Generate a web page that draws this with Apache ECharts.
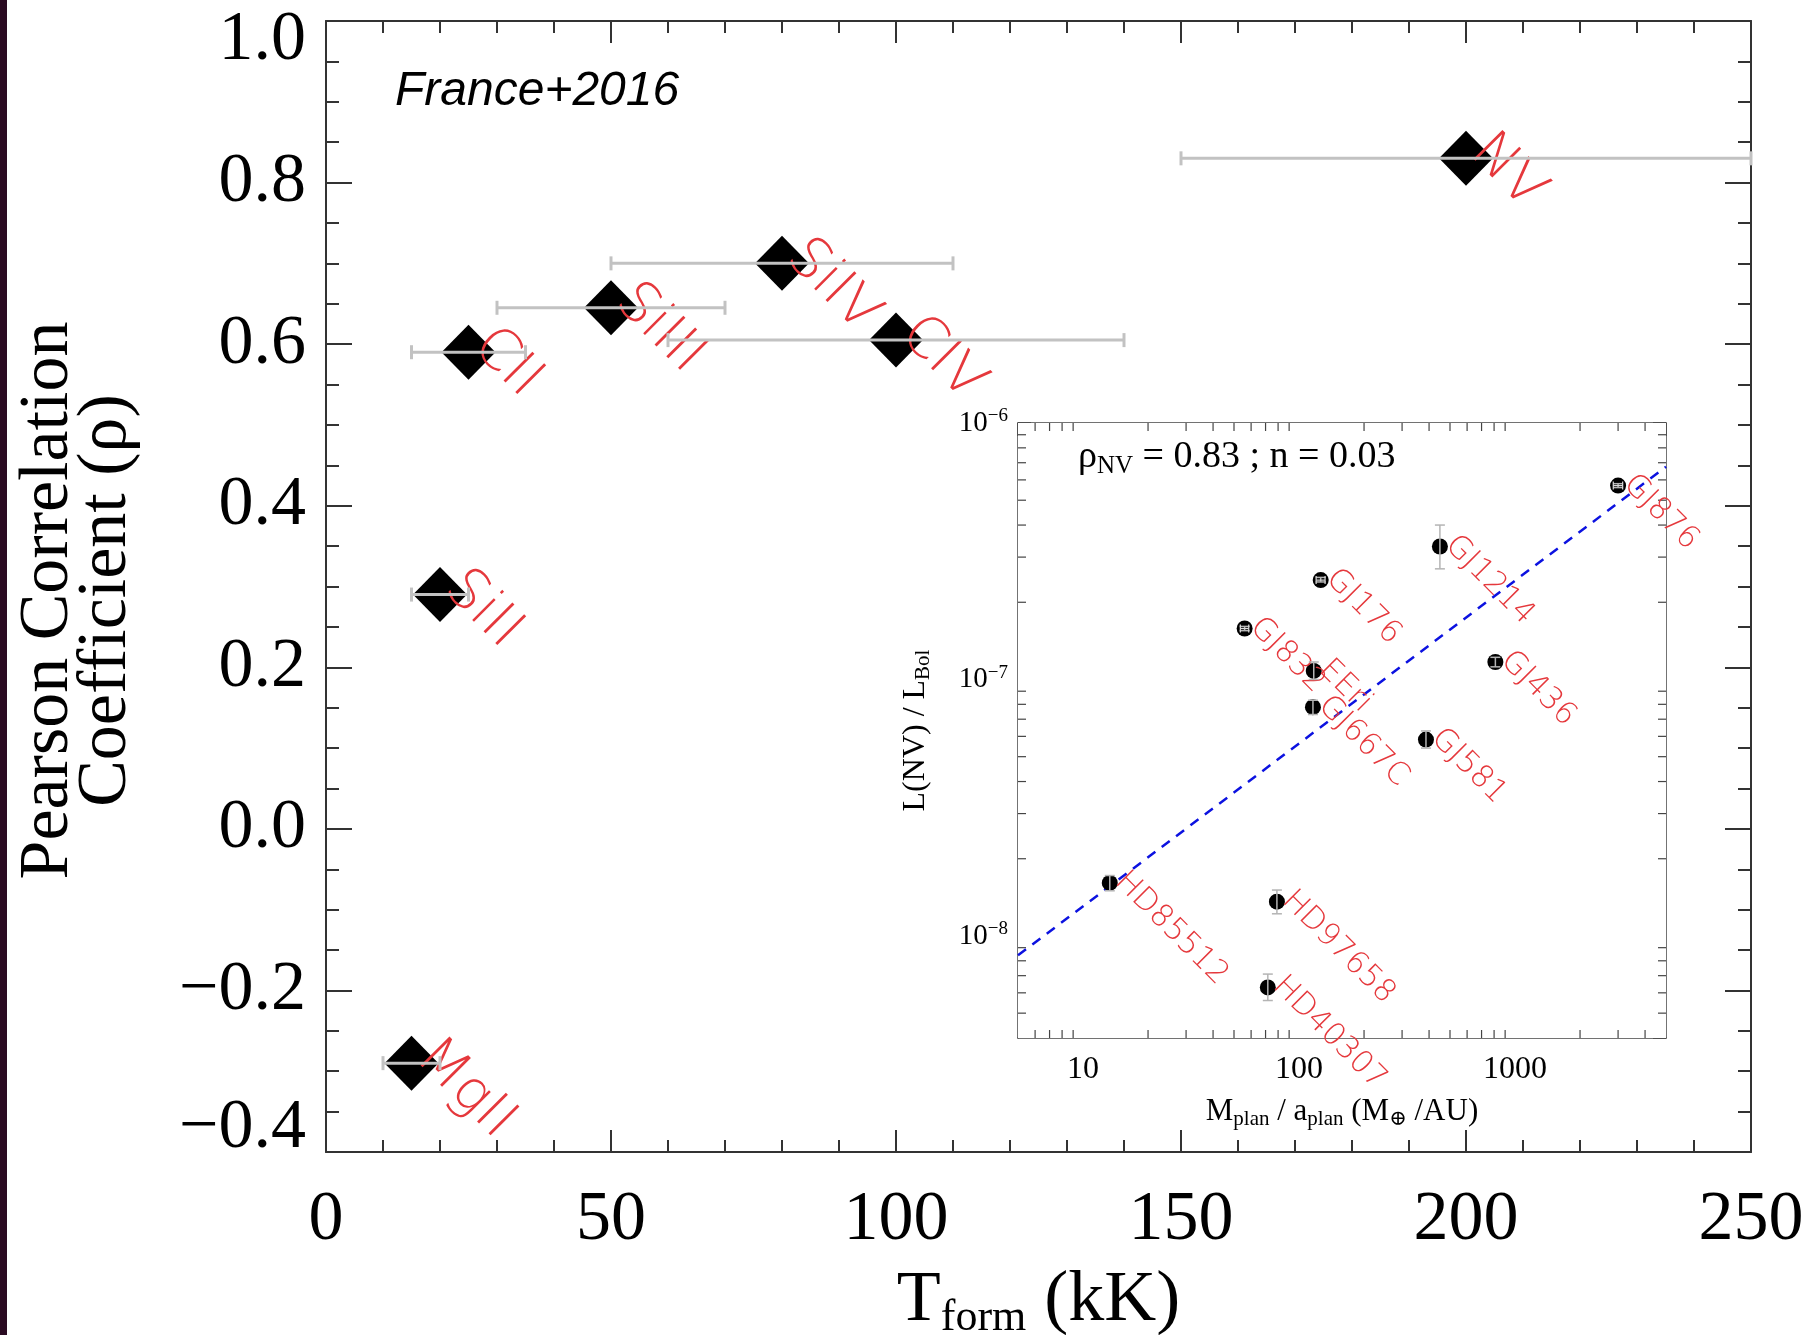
<!DOCTYPE html>
<html>
<head>
<meta charset="utf-8">
<title>Pearson correlation vs formation temperature</title>
<script src="https://cdn.jsdelivr.net/npm/echarts@6/dist/echarts.min.js"></script>
<style>
  html, body { margin: 0; padding: 0; background: #fff; }
  #chart { width: 1808px; height: 1335px; }
</style>
</head>
<body>
<div id="chart"></div>
<script>
/* ---------- main panel: correlation vs formation temperature ---------- */
const ions = ['MgII', 'SiII', 'CII', 'SiIII', 'SiIV', 'CIV', 'NV'];
const tForm = [15, 20, 25, 50, 80, 100, 200];
const tLow = [10, 15, 15, 30, 50, 60, 150];
const tHigh = [20, 25, 35, 70, 110, 140, 250];
const rho = [-0.29, 0.29, 0.59, 0.645, 0.70, 0.605, 0.83];

/* ---------- inset: L(NV)/Lbol vs Mplan/aplan ---------- */
const stars = ['GJ876', 'GJ1214', 'GJ176', 'GJ832', 'GJ436', 'EEri', 'GJ667C', 'GJ581', 'HD85512', 'HD97658', 'HD40307'];
const mOverA = [3000, 449, 126, 56, 811, 117, 116, 387, 13.3, 79, 71.7];
const mOverALo = [2850, 449, 120, 53.5, 811, 117, 116, 387, 13.3, 79, 71.7];
const mOverAHi = [3150, 449, 132, 58.5, 811, 117, 116, 387, 13.3, 79, 71.7];
const lNV = [5.7e-7, 3.3e-7, 2.44e-7, 1.58e-7, 1.17e-7, 1.08e-7, 7.8e-8, 5.83e-8, 1.61e-8, 1.36e-8, 6.3e-9];
const lNVLo = [5.6e-7, 2.7e-7, 2.4e-7, 1.55e-7, 1.12e-7, 1.0e-7, 7.3e-8, 5.4e-8, 1.5e-8, 1.22e-8, 5.6e-9];
const lNVHi = [5.8e-7, 4.0e-7, 2.5e-7, 1.61e-7, 1.22e-7, 1.17e-7, 8.3e-8, 6.3e-8, 1.72e-8, 1.51e-8, 7.1e-9];
const fitX = [5, 5000];
const fitY = [8.4e-9, 6.75e-7];

/* log minor tick positions of the inset */
const insetMinorX = [6, 7, 8, 9, 20, 30, 40, 50, 60, 70, 80, 90, 200, 300, 400, 500, 600, 700, 800, 900, 2000, 3000, 4000];
const insetMinorY = [5e-9, 6e-9, 7e-9, 8e-9, 9e-9, 2e-8, 3e-8, 4e-8, 5e-8, 6e-8, 7e-8, 8e-8, 9e-8,
  2e-7, 3e-7, 4e-7, 5e-7, 6e-7, 7e-7, 8e-7, 9e-7];

/* ---------- styles ---------- */
const SERIF = "'Liberation Serif', 'Times New Roman', 'DejaVu Serif', serif";
const SANS = "'DejaVu Sans', 'Liberation Sans', sans-serif";
const RED = '#e5383c';
const AXIS = '#333';

const chart = echarts.init(document.getElementById('chart'));

function mainYLabel(v) {
  const s = (v < 0 ? '\u2212' : '') + Math.abs(v).toFixed(1);
  if (v > 0.999) return '{top|' + s + '}';
  if (v < -0.399) return '{bot|' + s + '}';
  return s;
}

const mainAxisCommon = {
  axisLine: { onZero: false, lineStyle: { color: AXIS, width: 2 } },
  axisTick: { inside: true, lineStyle: { color: AXIS, width: 2 } },
  minorTick: { show: true, lineStyle: { color: AXIS, width: 2 } },
  splitLine: { show: false },
  minorSplitLine: { show: false },
};

const insetAxisCommon = {
  type: 'log',
  logBase: 10,
  splitNumber: 3,
  gridIndex: 1,
  axisLine: { onZero: false, lineStyle: { color: '#444', width: 1.5 } },
  axisTick: { inside: true, length: 13, lineStyle: { color: '#444', width: 1.5 } },
  splitLine: { show: false },
};

function xErrRender(params, api) {
  const y = api.value(1);
  const p0 = api.coord([api.value(2), y]);
  const p1 = api.coord([api.value(3), y]);
  const cap = 7;
  const st = { stroke: '#c2c2c2', lineWidth: 3 };
  return {
    type: 'group',
    children: [
      { type: 'line', shape: { x1: p0[0], y1: p0[1], x2: p1[0], y2: p1[1] }, style: st },
      { type: 'line', shape: { x1: p0[0], y1: p0[1] - cap, x2: p0[0], y2: p0[1] + cap }, style: st },
      { type: 'line', shape: { x1: p1[0], y1: p1[1] - cap, x2: p1[0], y2: p1[1] + cap }, style: st },
    ],
  };
}

function insetErrRender(params, api) {
  const x = api.value(0);
  const y = api.value(1);
  const st = { stroke: '#b4b4b4', lineWidth: 1.5 };
  const cap = 5;
  const a = api.coord([x, api.value(2)]);
  const b = api.coord([x, api.value(3)]);
  const c = api.coord([api.value(4), y]);
  const d = api.coord([api.value(5), y]);
  const kids = [];
  if (Math.abs(a[1] - b[1]) > 2) {
    kids.push(
      { type: 'line', shape: { x1: a[0], y1: a[1], x2: b[0], y2: b[1] }, style: st },
      { type: 'line', shape: { x1: a[0] - cap, y1: a[1], x2: a[0] + cap, y2: a[1] }, style: st },
      { type: 'line', shape: { x1: b[0] - cap, y1: b[1], x2: b[0] + cap, y2: b[1] }, style: st }
    );
  }
  if (Math.abs(c[0] - d[0]) > 2) {
    const hs = { stroke: '#d8d8d8', lineWidth: 1.2 };
    kids.push(
      { type: 'line', shape: { x1: c[0], y1: c[1], x2: d[0], y2: d[1] }, style: hs },
      { type: 'line', shape: { x1: c[0], y1: c[1] - 4, x2: c[0], y2: c[1] + 4 }, style: hs },
      { type: 'line', shape: { x1: d[0], y1: d[1] - 4, x2: d[0], y2: d[1] + 4 }, style: hs }
    );
  }
  return { type: 'group', children: kids };
}

function minorXRender(params, api) {
  const cs = params.coordSys;
  const px = api.coord([api.value(0), 1e-7])[0];
  const st = { stroke: '#444', lineWidth: 1.2 };
  return {
    type: 'group',
    children: [
      { type: 'line', shape: { x1: px, y1: cs.y + cs.height, x2: px, y2: cs.y + cs.height - 8 }, style: st },
      { type: 'line', shape: { x1: px, y1: cs.y, x2: px, y2: cs.y + 8 }, style: st },
    ],
  };
}

function minorYRender(params, api) {
  const cs = params.coordSys;
  const py = api.coord([100, api.value(1)])[1];
  const st = { stroke: '#444', lineWidth: 1.2 };
  return {
    type: 'group',
    children: [
      { type: 'line', shape: { x1: cs.x, y1: py, x2: cs.x + 8, y2: py }, style: st },
      { type: 'line', shape: { x1: cs.x + cs.width, y1: py, x2: cs.x + cs.width - 8, y2: py }, style: st },
    ],
  };
}

const option = {
  backgroundColor: '#fff',
  animation: false,
  grid: [
    { left: 326, top: 21, width: 1425, height: 1131, containLabel: false, outerBoundsMode: 'none' },
    {
      left: 1018, top: 423, width: 648, height: 615, show: true, backgroundColor: '#fff',
      borderWidth: 0, z: 3, containLabel: false, outerBoundsMode: 'none',
    },
  ],
  xAxis: [
    {
      ...mainAxisCommon,
      type: 'value', gridIndex: 0, min: 0, max: 250, interval: 50,
      axisTick: { ...mainAxisCommon.axisTick, length: 22 },
      minorTick: { ...mainAxisCommon.minorTick, splitNumber: 5, length: 12 },
      axisLabel: { fontFamily: SERIF, fontSize: 70, color: '#000', margin: 34 },
      name: 'T{sub|form} (kK)',
      nameLocation: 'middle',
      nameGap: 100,
      nameTextStyle: {
        fontFamily: SERIF, fontSize: 72, color: '#000', lineHeight: 80,
        rich: { sub: { fontFamily: SERIF, fontSize: 44, color: '#000', verticalAlign: 'bottom', lineHeight: 30 } },
      },
    },
    {
      ...mainAxisCommon,
      type: 'value', gridIndex: 0, position: 'top', min: 0, max: 250, interval: 50,
      axisTick: { ...mainAxisCommon.axisTick, length: 22 },
      minorTick: { ...mainAxisCommon.minorTick, splitNumber: 5, length: 12 },
      axisLabel: { show: false },
    },
    {
      ...insetAxisCommon,
      min: 5, max: 5000,
      axisLabel: {
        fontFamily: SERIF, fontSize: 32, color: '#000', margin: 16,
        showMinLabel: false, showMaxLabel: false,
        formatter: (v) => String(Math.round(v)),
      },
      name: 'M{s|plan} / a{s|plan} (M{s|\u2295} /AU)',
      nameLocation: 'middle',
      nameGap: 56,
      nameTextStyle: {
        fontFamily: SERIF, fontSize: 31, color: '#000', lineHeight: 36,
        rich: { s: { fontFamily: SERIF, fontSize: 21, color: '#000', verticalAlign: 'bottom', lineHeight: 18 } },
      },
    },
    {
      ...insetAxisCommon,
      position: 'top',
      min: 5, max: 5000,
      axisLabel: { show: false },
    },
  ],
  yAxis: [
    {
      ...mainAxisCommon,
      type: 'value', gridIndex: 0, min: -0.4, max: 1.0, interval: 0.2,
      axisTick: { ...mainAxisCommon.axisTick, length: 26 },
      minorTick: { ...mainAxisCommon.minorTick, splitNumber: 4, length: 13 },
      axisLabel: {
        fontFamily: SERIF, fontSize: 70, color: '#000', margin: 20,
        formatter: mainYLabel,
        rich: {
          top: { fontFamily: SERIF, fontSize: 70, color: '#000', padding: [40, 0, 0, 0] },
          bot: { fontFamily: SERIF, fontSize: 70, color: '#000', padding: [0, 0, 46, 0] },
        },
      },
      name: 'Pearson Correlation\nCoefficient (\u03c1)',
      nameLocation: 'middle',
      nameRotate: 90,
      nameGap: 190,
      nameTextStyle: { fontFamily: SERIF, fontSize: 70, color: '#000', lineHeight: 58, padding: [0, 28, 0, 0] },
    },
    {
      ...mainAxisCommon,
      type: 'value', gridIndex: 0, position: 'right', min: -0.4, max: 1.0, interval: 0.2,
      axisTick: { ...mainAxisCommon.axisTick, length: 26 },
      minorTick: { ...mainAxisCommon.minorTick, splitNumber: 4, length: 13 },
      axisLabel: { show: false },
    },
    {
      ...insetAxisCommon,
      min: 4e-9, max: 1e-6,
      axisLabel: {
        fontFamily: SERIF, fontSize: 29, color: '#000', margin: 10, lineHeight: 32,
        showMinLabel: false,
        formatter: (v) => '10{s|\u2212' + (-Math.round(Math.log10(v))) + '}',
        rich: { s: { fontFamily: SERIF, fontSize: 19, color: '#000', verticalAlign: 'top', lineHeight: 19 } },
      },
      name: 'L(NV) / L{s|Bol}',
      nameLocation: 'middle',
      nameRotate: 90,
      nameGap: 84,
      nameTextStyle: {
        fontFamily: SERIF, fontSize: 32, color: '#000', lineHeight: 36,
        rich: { s: { fontFamily: SERIF, fontSize: 21, color: '#000', verticalAlign: 'bottom', lineHeight: 18 } },
      },
    },
    {
      ...insetAxisCommon,
      position: 'right',
      min: 4e-9, max: 1e-6,
      axisLabel: { show: false },
    },
  ],
  graphic: [
    { type: 'rect', shape: { x: 0, y: 0, width: 7, height: 1335 }, style: { fill: '#2b0b22' }, z: 100 },
    {
      type: 'text', x: 395, y: 92, z: 100,
      style: {
        text: 'France+2016', fontFamily: "'Liberation Sans', Arial, sans-serif", fontSize: 48,
        fontStyle: 'italic', fill: '#000', align: 'left', verticalAlign: 'middle',
        textAlign: 'left', textVerticalAlign: 'middle',
      },
    },
    {
      type: 'text', x: 1078, y: 457, z: 100,
      style: {
        text: '{r|\u03c1}{s|NV}{r| = 0.83 ; n = 0.03}',
        fill: '#000', align: 'left', verticalAlign: 'middle', textAlign: 'left', textVerticalAlign: 'middle',
        rich: {
          r: { fontFamily: SERIF, fontSize: 38, fill: '#000', lineHeight: 44 },
          s: { fontFamily: SERIF, fontSize: 25, fill: '#000', verticalAlign: 'bottom', lineHeight: 26 },
        },
      },
    },
  ],
  series: [
    {
      type: 'scatter', xAxisIndex: 0, yAxisIndex: 0, z: 3,
      symbol: 'diamond', symbolSize: [54, 55],
      itemStyle: { color: '#000', opacity: 1 },
      data: ions.map((n, i) => ({ name: n, value: [tForm[i], rho[i]] })),
      label: {
        show: true, formatter: '{b}', position: [40, 13], rotate: -45,
        align: 'left', verticalAlign: 'middle',
        fontFamily: SANS, fontWeight: 200, fontSize: 56, color: RED,
      },
    },
    {
      type: 'custom', xAxisIndex: 0, yAxisIndex: 0, z: 4,
      renderItem: xErrRender,
      encode: { x: 0, y: 1 },
      data: ions.map((n, i) => [tForm[i], rho[i], tLow[i], tHigh[i]]),
    },
    {
      type: 'line', xAxisIndex: 2, yAxisIndex: 2, z: 5,
      symbol: 'none',
      lineStyle: { color: '#0c12e0', width: 2.5, type: [10, 8] },
      data: fitX.map((x, i) => [x, fitY[i]]),
    },
    {
      type: 'scatter', xAxisIndex: 2, yAxisIndex: 2, z: 6,
      symbol: 'circle', symbolSize: 16,
      itemStyle: { color: '#000', opacity: 1 },
      data: stars.map((n, i) => ({ name: n, value: [mOverA[i], lNV[i]] })),
      label: {
        show: true, formatter: '{b}', position: [18, 2], rotate: -45,
        align: 'left', verticalAlign: 'middle',
        fontFamily: SANS, fontWeight: 200, fontSize: 31, color: RED,
      },
    },
    {
      type: 'custom', xAxisIndex: 2, yAxisIndex: 2, z: 7,
      renderItem: insetErrRender,
      encode: { x: 0, y: 1 },
      data: stars.map((n, i) => [mOverA[i], lNV[i], lNVLo[i], lNVHi[i], mOverALo[i], mOverAHi[i]]),
    },
    {
      type: 'custom', xAxisIndex: 2, yAxisIndex: 2, z: 5,
      renderItem: minorXRender,
      encode: { x: 0, y: 1 },
      data: insetMinorX.map((v) => [v, 1e-7]),
    },
    {
      type: 'custom', xAxisIndex: 2, yAxisIndex: 2, z: 5,
      renderItem: minorYRender,
      encode: { x: 0, y: 1 },
      data: insetMinorY.map((v) => [100, v]),
    },
  ],
};

chart.setOption(option);
</script>
</body>
</html>
